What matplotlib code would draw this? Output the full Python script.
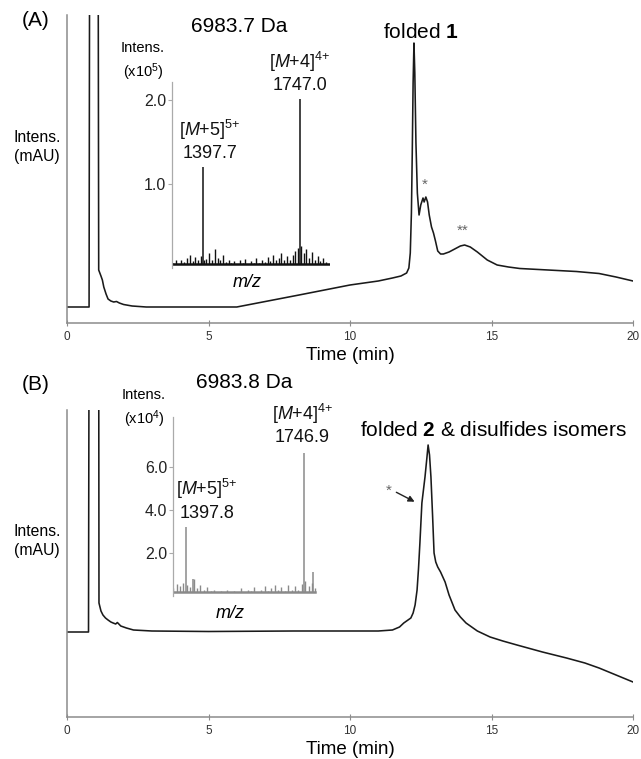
import matplotlib
matplotlib.use("Agg")
import matplotlib.pyplot as plt

plt.rcParams["font.family"] = ["Liberation Sans", "DejaVu Sans"]
plt.rcParams["mathtext.fontset"] = "custom"
plt.rcParams["mathtext.rm"] = "Liberation Sans"
plt.rcParams["mathtext.it"] = "Liberation Sans:italic"
plt.rcParams["mathtext.bf"] = "Liberation Sans:bold"

# ---------------------------------------------------------------------------
# Data
# ---------------------------------------------------------------------------

# (A) HPLC trace, time (min) vs absorbance (mAU, arbitrary)
time_a = [0.0, 0.78, 0.80, 1.10, 1.12, 1.20, 1.25, 1.30, 1.38, 1.45, 1.55,
          1.65, 1.75, 1.85, 2.0, 2.3, 2.8, 6.0, 8.2, 10.0, 11.0, 11.5, 11.8,
          12.0, 12.08, 12.13, 12.17, 12.2, 12.23, 12.26, 12.29, 12.33, 12.38,
          12.44, 12.5, 12.58, 12.62, 12.68, 12.74, 12.8, 12.88, 12.95, 13.02,
          13.1, 13.2, 13.3, 13.5, 13.7, 13.9, 14.05, 14.25, 14.5, 14.85, 15.2,
          15.6, 16.0, 17.0, 18.0, 18.8, 19.4, 20.0]
abs_a = [16, 16, 400, 400, 53, 47, 43, 36, 29, 24, 22,
         21, 21.5, 20, 18.5, 17, 16, 16, 28, 38, 42, 45, 47,
         50, 55, 70, 110, 170, 240, 280, 250, 180, 130,
         108, 118, 125, 121, 126, 121, 108, 96, 90, 82,
         72, 69, 69, 71, 74, 77, 78, 76, 71, 63, 58,
         56, 54.5, 53, 51.5, 49.5, 46, 42]

# (B) HPLC trace
time_b = [0.0, 0.76, 0.78, 1.12, 1.13, 1.20, 1.27, 1.36, 1.45, 1.55, 1.63,
          1.72, 1.78, 1.90, 2.1, 2.35, 3.0, 5.0, 8.0, 11.0, 11.5, 11.75, 11.9,
          12.05, 12.15, 12.23, 12.3, 12.37, 12.42, 12.47, 12.54, 12.65, 12.72,
          12.76, 12.81, 12.86, 12.92, 12.97, 13.03, 13.1, 13.2, 13.36, 13.5,
          13.71, 13.9, 14.1, 14.5, 14.95, 15.4, 15.9, 16.8, 17.65, 18.3, 18.8,
          19.4, 20.0]
abs_b = [85, 85, 400, 400, 114, 106, 102, 99, 97, 95, 94,
         93, 94.5, 91, 89, 87, 86, 85.5, 86, 86, 87, 90, 94,
         97, 99, 104, 112, 127, 148, 174, 214, 240, 260,
         272, 262, 240, 200, 164, 155, 150, 145, 135, 122,
         107, 100, 94, 86, 80, 76, 72, 65, 59, 54, 49,
         42, 35]

# ESI-MS insets
ms_a_peaks_mz = [1397.7, 1747.0]
ms_a_peaks_int = [1.20, 2.01]          # x10^5
ms_a_label_mz = [1423, 1747]
ms_a_label_int = [1.26, 2.07]
ms_a_labels = [r"[$\mathit{M}$+5]$^{5{+}}$" + "\n1397.7",
               r"[$\mathit{M}$+4]$^{4{+}}$" + "\n1747.0"]
ms_a_noise_mz = [1290, 1300, 1310, 1320, 1330, 1340, 1350, 1360, 1370, 1380,
                 1390, 1400, 1410, 1420, 1430, 1440, 1450, 1460, 1470, 1480,
                 1490, 1500, 1510, 1520, 1530, 1540, 1550, 1560, 1570, 1580,
                 1590, 1600, 1610, 1620, 1630, 1640, 1650, 1660, 1670, 1680,
                 1690, 1700, 1710, 1720, 1730, 1740, 1750, 1760, 1770, 1780,
                 1790, 1800, 1810, 1820, 1830, 1840, 1850]
ms_a_noise_int = [0.06, 0.09, 0.05, 0.10, 0.07, 0.12, 0.16, 0.08, 0.13, 0.10,
                  0.14, 0.09, 0.11, 0.18, 0.10, 0.22, 0.12, 0.09, 0.15, 0.07,
                  0.10, 0.06, 0.08, 0.05, 0.09, 0.06, 0.11, 0.05, 0.08, 0.06,
                  0.12, 0.06, 0.10, 0.07, 0.13, 0.08, 0.15, 0.09, 0.12, 0.18,
                  0.09, 0.14, 0.10, 0.16, 0.20, 0.24, 0.26, 0.18, 0.22, 0.12,
                  0.19, 0.10, 0.14, 0.08, 0.12, 0.07, 0.05]

ms_b_peaks_mz = [1397.8, 1418.5, 1746.9, 1773.5]
ms_b_peaks_int = [3.2, 0.8, 6.65, 1.1]  # x10^4
ms_b_label_mz = [1460, 1742]
ms_b_label_int = [3.45, 6.95]
ms_b_labels = [r"[$\mathit{M}$+5]$^{5{+}}$" + "\n1397.8",
               r"[$\mathit{M}$+4]$^{4{+}}$" + "\n1746.9"]
ms_b_noise_mz = [1360, 1370, 1380, 1390, 1400, 1410, 1420, 1430, 1440, 1450,
                 1460, 1470, 1480, 1490, 1500, 1510, 1520, 1530, 1540, 1550,
                 1560, 1570, 1580, 1590, 1600, 1610, 1620, 1630, 1640, 1650,
                 1660, 1670, 1680, 1690, 1700, 1710, 1720, 1730, 1740, 1750,
                 1760, 1770, 1780]
ms_b_noise_int = [0.35, 0.55, 0.45, 0.60, 0.50, 0.40, 0.80, 0.35, 0.50, 0.30,
                  0.40, 0.25, 0.30, 0.20, 0.25, 0.20, 0.30, 0.20, 0.25, 0.20,
                  0.35, 0.20, 0.30, 0.25, 0.40, 0.20, 0.30, 0.45, 0.25, 0.35,
                  0.50, 0.30, 0.40, 0.25, 0.50, 0.30, 0.45, 0.30, 0.55, 0.70,
                  0.45, 0.60, 0.35]

time_ticks = [0, 5, 10, 15, 20]

W, H = 641, 759
AXIS_GREY = "#8c8c8c"
TRACE = "#1a1a1a"


def px(x, y):
    """pixel position (from top-left) -> figure fraction"""
    return x / W, 1 - y / H


def box(x0, y0, x1, y1):
    return [x0 / W, 1 - y1 / H, (x1 - x0) / W, (y1 - y0) / H]


# ---------------------------------------------------------------------------
# Drawing helpers
# ---------------------------------------------------------------------------

def draw_hplc(ax, t, a, ymax):
    ax.plot(t, a, color=TRACE, lw=1.15, solid_joinstyle="round")
    ax.set_xlim(0, 20)
    ax.set_ylim(0, ymax)
    for s in ("top", "right"):
        ax.spines[s].set_visible(False)
    for s in ("left", "bottom"):
        ax.spines[s].set_color(AXIS_GREY)
        ax.spines[s].set_linewidth(1.1)
    ax.set_yticks([])
    ax.set_xticks(time_ticks)
    ax.tick_params(axis="x", direction="inout", length=4, width=0.8,
                   color=AXIS_GREY, labelsize=8.5, labelcolor="#333333", pad=4)
    ax.set_xlabel("Time (min)", fontsize=13.5, labelpad=3)


def draw_ms(ax, nmz, nint, pmz, pint, lmz, lint, labels, color, xlim, ylim,
            yticks):
    floor = 0.02 * ylim[1]
    # spiky noise floor + the two charge-state peaks
    ax.vlines(nmz, floor, nint, color=color, lw=1.0)
    ax.plot([nmz[0], nmz[-1]], [floor, floor], color=color, lw=1.8)
    ax.vlines(pmz, floor, pint, color=color, lw=1.1)
    for m, h, lab in zip(lmz, lint, labels):
        ax.text(m, h, lab, ha="center", va="bottom", fontsize=13,
                linespacing=1.25, color="#111111")
    ax.set_xlim(*xlim)
    ax.set_ylim(*ylim)
    ax.patch.set_alpha(0)
    for s in ("top", "right", "bottom"):
        ax.spines[s].set_visible(False)
    ax.spines["left"].set_color("#aaaaaa")
    ax.spines["left"].set_linewidth(0.9)
    ax.set_xticks([])
    ax.set_yticks(yticks)
    ax.set_yticklabels([f"{v:.1f}" for v in yticks])
    ax.tick_params(axis="y", direction="out", length=3, width=0.8,
                   color="#aaaaaa", labelsize=11.5, pad=1, labelcolor="#222222")


fig = plt.figure(figsize=(W / 100, H / 100), dpi=100)

# ---- Panel A ---------------------------------------------------------------
ax_a = fig.add_axes(box(67, 15, 633, 323))
draw_hplc(ax_a, time_a, abs_a, 308)
ax_a.text(12.65, 134, "*", fontsize=11, color="#666666", ha="center")
ax_a.text(13.99, 88, "**", fontsize=11, color="#666666", ha="center")

ins_a = fig.add_axes(box(172, 82, 330, 268))
draw_ms(ins_a, ms_a_noise_mz, ms_a_noise_int, ms_a_peaks_mz, ms_a_peaks_int,
        ms_a_label_mz, ms_a_label_int, ms_a_labels, "#111111",
        (1286, 1855), (0, 2.21), [1.0, 2.0])

fig.text(*px(22, 20), "(A)", fontsize=15, va="center")
fig.text(*px(37, 147), "Intens.\n(mAU)", fontsize=11.3, ha="center",
         va="center", linespacing=1.35)
fig.text(*px(239, 27), "6983.7 Da", fontsize=15, ha="center", va="center")
fig.text(*px(143, 62), "Intens.\n(x10$^5$)", fontsize=10.5, ha="center",
         va="center", linespacing=1.35)
fig.text(*px(247, 283), "m/z", fontsize=13, style="italic", ha="center",
         va="center")
fig.text(*px(421, 32), r"folded $\mathbf{1}$", fontsize=15, ha="center",
         va="center")

# ---- Panel B ---------------------------------------------------------------
ax_b = fig.add_axes(box(67, 410, 633, 717))
draw_hplc(ax_b, time_b, abs_b, 307)
ax_b.annotate("", xy=(12.37, 214), xytext=(11.55, 226),
              arrowprops=dict(arrowstyle="-|>", color="#222222", lw=1.0,
                              mutation_scale=9))
ax_b.text(11.38, 222, "*", fontsize=11, color="#666666", ha="center")

ins_b = fig.add_axes(box(173, 417, 318, 596))
draw_ms(ins_b, ms_b_noise_mz, ms_b_noise_int, ms_b_peaks_mz, ms_b_peaks_int,
        ms_b_label_mz, ms_b_label_int, ms_b_labels, "#8a8a8a",
        (1359, 1788), (0, 8.3), [2.0, 4.0, 6.0])

fig.text(*px(22, 385), "(B)", fontsize=15, va="center")
fig.text(*px(37, 541), "Intens.\n(mAU)", fontsize=11.3, ha="center",
         va="center", linespacing=1.35)
fig.text(*px(244, 383), "6983.8 Da", fontsize=15, ha="center", va="center")
fig.text(*px(144, 409), "Intens.\n(x10$^4$)", fontsize=10.5, ha="center",
         va="center", linespacing=1.35)
fig.text(*px(230, 613), "m/z", fontsize=13, style="italic", ha="center",
         va="center")
fig.text(*px(493, 430), r"folded $\mathbf{2}$ & disulfides isomers",
         fontsize=15, ha="center", va="center")

fig.savefig("out.png", dpi=100)
